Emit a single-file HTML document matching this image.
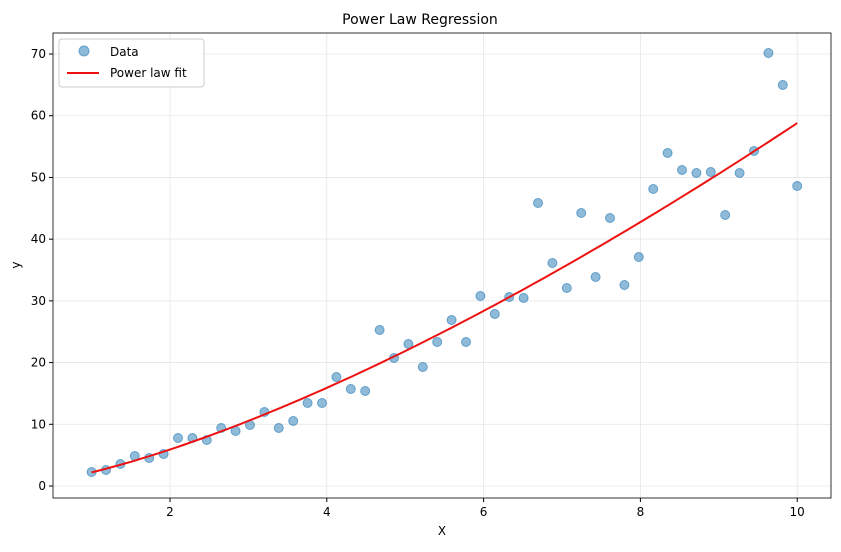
<!DOCTYPE html>
<html><head><meta charset="utf-8"><style>
body{margin:0;background:#fff;font-family:"Liberation Sans","DejaVu Sans",sans-serif}
text{font-family:"DejaVu Sans","Liberation Sans",sans-serif;fill:#000}
</style></head><body>
<svg id="s" width="841" height="547" xmlns="http://www.w3.org/2000/svg">
<rect width="841" height="547" fill="#fff"/>
<g id="grid" stroke="#e6e6e6" stroke-width="0.8"></g>
<g id="pts"></g>
<path id="fit" fill="none" stroke="#ee1111" stroke-width="2"/>
<rect x="53" y="33" width="778" height="465" fill="none" stroke="#000" stroke-width="0.8"/>
<g id="ticks" font-size="12"></g>
<text x="420" y="24" text-anchor="middle" font-size="14">Power Law Regression</text>
<text x="442" y="535" text-anchor="middle" font-size="12">X</text>
<text x="20" y="265" text-anchor="middle" font-size="12" transform="rotate(-90 20 265)">y</text>
<rect x="59" y="39" width="145" height="48" rx="3" fill="#fff" fill-opacity="0.85" stroke="#ccc"/>
<circle cx="84" cy="51" r="5" fill="#1f77b4" fill-opacity="0.5" stroke="#1f77b4" stroke-opacity="0.6"/>
<text x="110" y="56" font-size="12">Data</text>
<line x1="67" y1="73" x2="99" y2="73" stroke="#ee1111" stroke-width="2"/>
<text x="110" y="77" font-size="12">Power law fit</text>
</svg>
<script>
const X=x=>91.6+(x-1)*78.4, Y=y=>486-y*6.171;
const g=document.getElementById('grid'),t=document.getElementById('ticks'),ns='http://www.w3.org/2000/svg';
function el(p,n,a,txt){const e=document.createElementNS(ns,n);for(const k in a)e.setAttribute(k,a[k]);if(txt!==undefined)e.textContent=txt;p.appendChild(e);return e;}
for(let v=2;v<=10;v+=2){const x=X(v);el(g,'line',{x1:x,x2:x,y1:33,y2:498});el(t,'line',{x1:x,x2:x,y1:498,y2:502,stroke:'#000'});el(t,'text',{x:x,y:516,'text-anchor':'middle'},v);}
for(let v=0;v<=70;v+=10){const y=Y(v);el(g,'line',{x1:53,x2:831,y1:y,y2:y});el(t,'line',{x1:49,x2:53,y1:y,y2:y,stroke:'#000'});el(t,'text',{x:46,y:y+4,'text-anchor':'end'},v);}
const py=[472,470,464,456,458,454,438,438,440,428,431,425,412,428,421,403,403,377,389,391,330,358,344,367,342,320,342,296,314,297,298,203,263,288,213,277,218,285,257,189,153,170,173,172,215,173,151,53,85,186];
const p=document.getElementById('pts');
py.forEach((y,i)=>el(p,'circle',{cx:X(1+i*9/49),cy:y,r:4.5,fill:'#1f77b4','fill-opacity':0.5,stroke:'#1f77b4','stroke-opacity':0.6}));
let d='';for(let i=0;i<=100;i++){const x=1+i*0.09;d+=(i?'L':'M')+X(x).toFixed(1)+','+Y(2.2*Math.pow(x,1.427)).toFixed(1);}
document.getElementById('fit').setAttribute('d',d);
</script>
</body></html>
